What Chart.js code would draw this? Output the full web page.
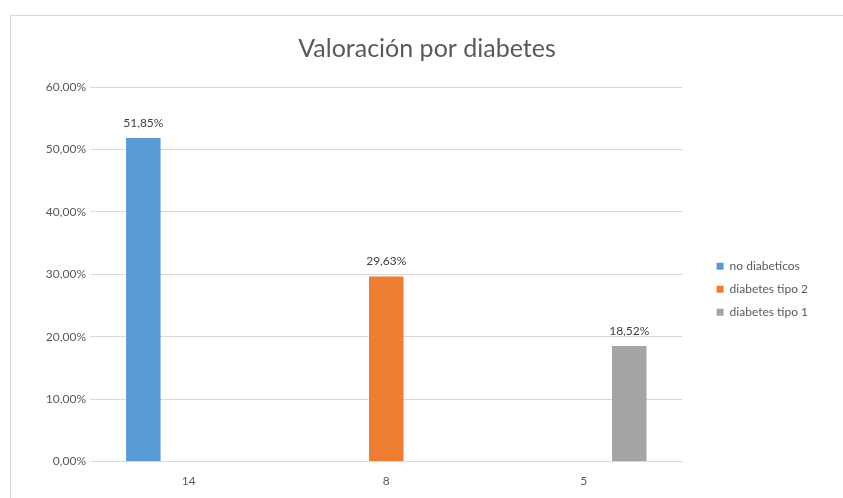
<!DOCTYPE html>
<html>
<head>
<meta charset="utf-8">
<script src="https://cdn.jsdelivr.net/npm/chart.js@4"></script>
<style>
  body { margin: 0; background: #fff; }
  #box { position: absolute; left: 10px; top: 15px; width: 840px; height: 490px; border: 1px solid #d9d9d9; }
  #myChart { display: block; }
</style>
</head>
<body>
<div id="box"><canvas id="myChart" width="840" height="490"></canvas></div>
<script>
let categories = ['14', '8', '5'] // nombre de pacientes
let noDiabeticos = [51.85, null, null]
let diabetesTipo2 = [null, 29.63, null]
let diabetesTipo1 = [null, null, 18.52]
let yTicks = [0, 10, 20, 30, 40, 50, 60]

const pct = (v) => v.toFixed(2).replace('.', ',') + '%'

// etiquetas encima de las barras
const barLabels = {
  id: 'barLabels',
  afterDatasetsDraw(chart) {
    const ctx = chart.ctx
    ctx.save()
    ctx.font = '12px Lato'
    ctx.fillStyle = '#404040'
    ctx.textAlign = 'center'
    ctx.textBaseline = 'bottom'
    chart.data.datasets.forEach((ds, i) => {
      chart.getDatasetMeta(i).data.forEach((bar, j) => {
        if (ds.data[j] == null) return
        ctx.fillText(pct(ds.data[j]), bar.x, bar.y - 9)
      })
    })
    ctx.restore()
  }
}

const ctx = document.getElementById('myChart')

new Chart(ctx, {
  type: 'bar',
  data: {
    labels: categories,
    datasets: [
      { label: 'no diabeticos', data: noDiabeticos, backgroundColor: '#5b9bd5' },
      { label: 'diabetes tipo 2', data: diabetesTipo2, backgroundColor: '#ed7d31' },
      { label: 'diabetes tipo 1', data: diabetesTipo1, backgroundColor: '#a5a5a5' }
    ]
  },
  options: {
    responsive: false,
    animation: false,
    categoryPercentage: 0.69,
    barPercentage: 0.76,
    layout: { padding: { left: 25, right: 33, top: 0, bottom: 14 } },
    plugins: {
      title: {
        display: true,
        text: 'Valoración por diabetes',
        color: '#595959',
        font: { family: 'Lato', size: 25, weight: 'normal' },
        padding: { top: 18, bottom: 23 }
      },
      legend: {
        position: 'right',
        title: { display: true, text: ' ', font: { size: 12 }, padding: 28 },
        labels: {
          boxWidth: 7,
          boxHeight: 7,
          color: '#595959',
          font: { family: 'Lato', size: 12 },
          padding: 11
        }
      },
      tooltip: { enabled: false }
    },
    scales: {
      x: {
        grid: { display: false },
        border: { display: false },
        ticks: { color: '#595959', font: { family: 'Lato', size: 12 }, padding: 4 }
      },
      y: {
        min: 0,
        max: 60,
        afterBuildTicks: (scale) => { scale.ticks = yTicks.map((v) => ({ value: v })) },
        afterFit: (scale) => { scale.width = 54 },
        grid: { color: '#d9d9d9', drawTicks: false },
        border: { display: false },
        ticks: { color: '#595959', font: { family: 'Lato', size: 12 }, padding: 4, callback: (v) => pct(v) }
      },
      // hueco vacío entre el gráfico y la leyenda
      gap: {
        position: 'right',
        display: true,
        grid: { display: false },
        border: { display: false },
        ticks: { display: false },
        afterFit: (scale) => { scale.width = 23 }
      }
    }
  },
  plugins: [barLabels]
})
</script>
</body>
</html>
